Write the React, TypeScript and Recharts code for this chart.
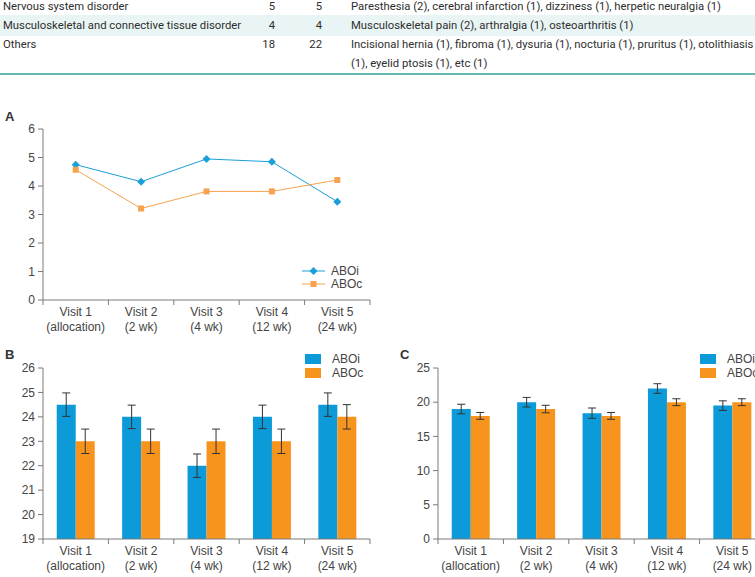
import React from 'react';
import { LineChart, Line, BarChart, Bar, XAxis, YAxis, ErrorBar } from 'recharts';

// adverse event table (top strip)
const aeCategories = ['Nervous system disorder', 'Musculoskeletal and connective tissue disorder', 'Others'];
const aeABOi = [5, 4, 18];
const aeABOc = [5, 4, 22];
const aeDetails = [
  ['Paresthesia (2), cerebral infarction (1), dizziness (1), herpetic neuralgia (1)'],
  ['Musculoskeletal pain (2), arthralgia (1), osteoarthritis (1)'],
  ['Incisional hernia (1), fibroma (1), dysuria (1), nocturia (1), pruritus (1), otolithiasis', '(1), eyelid ptosis (1), etc (1)'],
];

// shared categories
const visits = ['Visit 1', 'Visit 2', 'Visit 3', 'Visit 4', 'Visit 5'];
const visitNotes = ['(allocation)', '(2 wk)', '(4 wk)', '(12 wk)', '(24 wk)'];

// panel A
const aABOi = [4.75, 4.15, 4.95, 4.85, 3.45];
const aABOc = [4.57, 3.21, 3.81, 3.81, 4.21];
const aTicks = [0, 1, 2, 3, 4, 5, 6];

// panel B
const bABOi = [24.5, 24, 22, 24, 24.5];
const bABOc = [23, 23, 23, 23, 24];
const bErrABOi = [0.48, 0.48, 0.48, 0.48, 0.48];
const bErrABOc = [0.5, 0.5, 0.5, 0.5, 0.5];
const bTicks = [19, 20, 21, 22, 23, 24, 25, 26];

// panel C
const cABOi = [19, 20, 18.4, 22, 19.5];
const cABOc = [18, 19, 18, 20, 20];
const cErrABOi = [0.7, 0.7, 0.75, 0.7, 0.7];
const cErrABOc = [0.5, 0.55, 0.5, 0.5, 0.5];
const cTicks = [0, 5, 10, 15, 20, 25];

const BLUE = '#0c9ad8';
const ORANGE = '#f7941e';
const LINE_BLUE = '#1a9fd8';
const LINE_ORANGE = '#f7a24e';
const AXIS = '#7a7a7a';
const TICK = '#444';
const BAND = 65.4;

const dataA = visits.map((v, i) => ({ visit: v, ABOi: aABOi[i], ABOc: aABOc[i] }));
const dataB = visits.map((v, i) => ({ visit: v, ABOi: bABOi[i], ABOc: bABOc[i], iErr: bErrABOi[i], cErr: bErrABOc[i] }));
const dataC = visits.map((v, i) => ({ visit: v, ABOi: cABOi[i], ABOc: cABOc[i], iErr: cErrABOi[i], cErr: cErrABOc[i] }));

const VisitTick = (props: any) => {
  const { x, y, index } = props;
  const last = index === visits.length - 1;
  return (
    <g>
      <line x1={x - BAND / 2} x2={x - BAND / 2} y1={y} y2={y + 5} stroke={AXIS} />
      {last && <line x1={x + BAND / 2} x2={x + BAND / 2} y1={y} y2={y + 5} stroke={AXIS} />}
      <text x={x} y={y + 16} textAnchor="middle" fill={TICK} fontSize={12}>{visits[index]}</text>
      <text x={x} y={y + 31} textAnchor="middle" fill={TICK} fontSize={12}>{visitNotes[index]}</text>
    </g>
  );
};

const Diamond = (props: any) => {
  const { cx, cy } = props;
  if (cx == null || cy == null) return null;
  return <path d={`M${cx},${cy - 4}L${cx + 4},${cy}L${cx},${cy + 4}L${cx - 4},${cy}Z`} fill={LINE_BLUE} />;
};

const Square = (props: any) => {
  const { cx, cy } = props;
  if (cx == null || cy == null) return null;
  return <rect x={cx - 3} y={cy - 3} width={6} height={6} fill={LINE_ORANGE} />;
};

const LineLegend = ({ left, top }: { left: number; top: number }) => (
  <svg width={70} height={30} style={{ position: 'absolute', left, top, overflow: 'visible' }}>
    <line x1={0} x2={23} y1={6} y2={6} stroke={LINE_BLUE} />
    <path d="M11.5,2L15.5,6L11.5,10L7.5,6Z" fill={LINE_BLUE} />
    <text x={29} y={10} fontSize={12} fill={TICK}>ABOi</text>
    <line x1={0} x2={23} y1={19} y2={19} stroke={LINE_ORANGE} />
    <rect x={8.5} y={16} width={6} height={6} fill={LINE_ORANGE} />
    <text x={29} y={23} fontSize={12} fill={TICK}>ABOc</text>
  </svg>
);

const BarLegend = ({ left, top }: { left: number; top: number }) => (
  <svg width={70} height={30} style={{ position: 'absolute', left, top, overflow: 'visible' }}>
    <rect x={0} y={0} width={16} height={10} fill={BLUE} />
    <text x={27} y={9} fontSize={12} fill={TICK}>ABOi</text>
    <rect x={0} y={14} width={16} height={10} fill={ORANGE} />
    <text x={27} y={23} fontSize={12} fill={TICK}>ABOc</text>
  </svg>
);

const yAxisProps = {
  axisLine: { stroke: AXIS },
  tickLine: { stroke: AXIS },
  tickSize: 5,
  tickMargin: 3,
  tick: { fill: TICK, fontSize: 12 },
  interval: 0 as const,
};

const xAxisProps = {
  dataKey: 'visit',
  axisLine: { stroke: AXIS },
  tickLine: false,
  tickSize: 0,
  tickMargin: 0,
  interval: 0 as const,
  tick: VisitTick,
};

const panelLabel: React.CSSProperties = {
  position: 'absolute',
  fontWeight: 'bold',
  fontSize: 13,
  color: '#333',
  lineHeight: '14px',
};

const tableText: React.CSSProperties = {
  position: 'absolute',
  fontFamily: 'Roboto, sans-serif',
  fontSize: 11.3,
  lineHeight: '14px',
  color: '#2e2e2e',
  whiteSpace: 'nowrap',
};

const rowCenters = [7, 25.5, 45];

export default function App() {
  return (
    <div
      style={{
        position: 'absolute',
        left: 0,
        top: 0,
        width: 755,
        height: 577,
        overflow: 'hidden',
        background: '#fff',
        fontFamily: '"Liberation Sans", Arial, sans-serif',
      }}
    >
      {/* table strip */}
      <div style={{ position: 'absolute', left: 0, top: 15, width: 755, height: 21, background: '#e9f5f4' }} />
      <div style={{ position: 'absolute', left: 0, top: 73, width: 755, height: 1.5, background: '#62bbb0' }} />
      {aeCategories.map((c, i) => (
        <React.Fragment key={c}>
          <div style={{ ...tableText, left: 3, top: rowCenters[i] - 7 }}>{c}</div>
          <div style={{ ...tableText, left: 245, width: 30, textAlign: 'right', top: rowCenters[i] - 7 }}>{aeABOi[i]}</div>
          <div style={{ ...tableText, left: 292, width: 30, textAlign: 'right', top: rowCenters[i] - 7 }}>{aeABOc[i]}</div>
          {aeDetails[i].map((d, j) => (
            <div key={j} style={{ ...tableText, left: 351, top: rowCenters[i] - 7 + j * 19 }}>{d}</div>
          ))}
        </React.Fragment>
      ))}

      {/* panel A */}
      <div style={{ ...panelLabel, left: 5, top: 110 }}>A</div>
      <div style={{ position: 'absolute', left: 0, top: 100 }}>
        <LineChart width={380} height={240} data={dataA} margin={{ top: 29, right: 10, bottom: 0, left: 8 }}>
          <XAxis {...xAxisProps} height={40} padding={{ left: BAND / 2, right: BAND / 2 }} />
          <YAxis {...yAxisProps} width={35} domain={[0, 6]} ticks={aTicks} />
          <Line dataKey="ABOi" stroke={LINE_BLUE} strokeWidth={1} dot={<Diamond />} activeDot={false} isAnimationActive={false} />
          <Line dataKey="ABOc" stroke={LINE_ORANGE} strokeWidth={1} dot={<Square />} activeDot={false} isAnimationActive={false} />
        </LineChart>
      </div>
      <LineLegend left={302} top={265} />

      {/* panel B */}
      <div style={{ ...panelLabel, left: 5, top: 348 }}>B</div>
      <div style={{ position: 'absolute', left: 0, top: 340 }}>
        <BarChart width={380} height={237} data={dataB} barGap={0} barCategoryGap="21%" margin={{ top: 28, right: 10, bottom: 0, left: 8 }}>
          <XAxis {...xAxisProps} height={38} />
          <YAxis {...yAxisProps} width={35} domain={[19, 26]} ticks={bTicks} />
          <Bar dataKey="ABOi" fill={BLUE} isAnimationActive={false}>
            <ErrorBar dataKey="iErr" width={4} stroke="#333" strokeWidth={1} />
          </Bar>
          <Bar dataKey="ABOc" fill={ORANGE} isAnimationActive={false}>
            <ErrorBar dataKey="cErr" width={4} stroke="#333" strokeWidth={1} />
          </Bar>
        </BarChart>
      </div>
      <BarLegend left={305} top={354} />

      {/* panel C */}
      <div style={{ ...panelLabel, left: 400, top: 348 }}>C</div>
      <div style={{ position: 'absolute', left: 380, top: 340 }}>
        <BarChart width={395} height={237} data={dataC} barGap={0} barCategoryGap="21%" margin={{ top: 28, right: 10, bottom: 0, left: 8 }}>
          <XAxis {...xAxisProps} height={38} />
          <YAxis {...yAxisProps} width={50} domain={[0, 25]} ticks={cTicks} />
          <Bar dataKey="ABOi" fill={BLUE} isAnimationActive={false}>
            <ErrorBar dataKey="iErr" width={4} stroke="#333" strokeWidth={1} />
          </Bar>
          <Bar dataKey="ABOc" fill={ORANGE} isAnimationActive={false}>
            <ErrorBar dataKey="cErr" width={4} stroke="#333" strokeWidth={1} />
          </Bar>
        </BarChart>
      </div>
      <BarLegend left={700} top={354} />
    </div>
  );
}
